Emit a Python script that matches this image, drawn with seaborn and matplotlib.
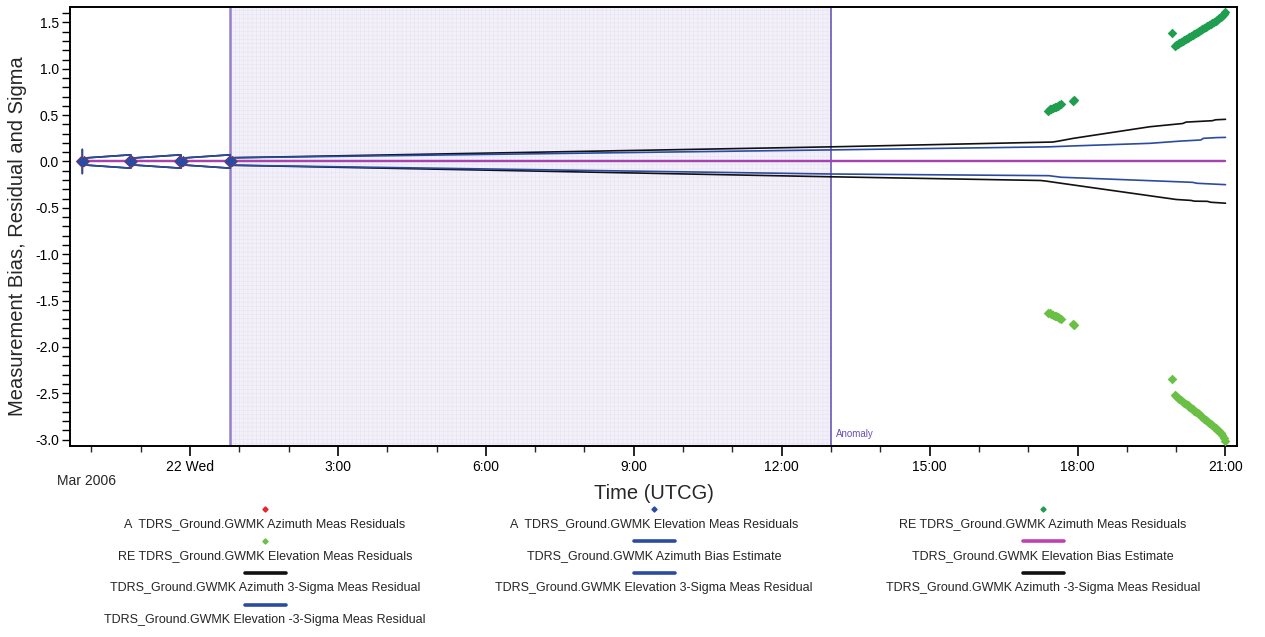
import numpy as np
import pandas as pd
import matplotlib
matplotlib.use("Agg")
import matplotlib.pyplot as plt
import matplotlib.dates as mdates
from matplotlib.lines import Line2D
from matplotlib.ticker import MultipleLocator, FuncFormatter
import seaborn as sns

# ---------------------------------------------------------------- data
# A-station passes (21-22 Mar 2006): azimuth / elevation residuals
a_times = ["2006-03-21 21:47", "2006-03-21 21:49", "2006-03-21 21:51",
           "2006-03-21 22:46", "2006-03-21 22:48", "2006-03-21 22:50",
           "2006-03-21 23:47", "2006-03-21 23:49", "2006-03-21 23:51",
           "2006-03-22 00:47", "2006-03-22 00:49", "2006-03-22 00:51"]
a_az_resid = [0.010, -0.008, 0.004, 0.006, -0.006, 0.003,
              0.008, -0.007, 0.002, 0.007, -0.005, 0.003]
a_el_resid = [0.004, -0.003, 0.006, 0.002, -0.004, 0.005,
              0.003, -0.002, 0.004, 0.002, -0.003, 0.004]

# RE-station passes after the anomaly
re_times = ["2006-03-22 17:24", "2006-03-22 17:26", "2006-03-22 17:28",
            "2006-03-22 17:30", "2006-03-22 17:32", "2006-03-22 17:34",
            "2006-03-22 17:36", "2006-03-22 17:38", "2006-03-22 17:40",
            "2006-03-22 17:54", "2006-03-22 17:56",
            "2006-03-22 19:55",
            "2006-03-22 19:58", "2006-03-22 20:00", "2006-03-22 20:02",
            "2006-03-22 20:04", "2006-03-22 20:06", "2006-03-22 20:08",
            "2006-03-22 20:10", "2006-03-22 20:12", "2006-03-22 20:14",
            "2006-03-22 20:16", "2006-03-22 20:18", "2006-03-22 20:20",
            "2006-03-22 20:22", "2006-03-22 20:24", "2006-03-22 20:26",
            "2006-03-22 20:28", "2006-03-22 20:30", "2006-03-22 20:32",
            "2006-03-22 20:34", "2006-03-22 20:36", "2006-03-22 20:38",
            "2006-03-22 20:40", "2006-03-22 20:42", "2006-03-22 20:44",
            "2006-03-22 20:46", "2006-03-22 20:48", "2006-03-22 20:50",
            "2006-03-22 20:52", "2006-03-22 20:54", "2006-03-22 20:56",
            "2006-03-22 20:58", "2006-03-22 21:00"]
re_az_resid = [0.550, 0.562, 0.570, 0.578, 0.585, 0.590, 0.598, 0.605, 0.615,
               0.655, 0.668,
               1.385,
               1.250, 1.262, 1.270, 1.283, 1.291, 1.305, 1.312, 1.326, 1.335,
               1.347, 1.358, 1.366, 1.378, 1.390, 1.398, 1.410, 1.422, 1.431,
               1.443, 1.455, 1.464, 1.476, 1.488, 1.497, 1.508, 1.520, 1.532,
               1.545, 1.558, 1.572, 1.594, 1.615]
re_el_resid = [-1.630, -1.640, -1.648, -1.655, -1.662, -1.670, -1.680, -1.690, -1.705,
               -1.750, -1.765,
               -2.345,
               -2.520, -2.535, -2.550, -2.560, -2.578, -2.590, -2.605, -2.620, -2.632,
               -2.648, -2.660, -2.675, -2.690, -2.703, -2.718, -2.730, -2.748, -2.760,
               -2.775, -2.790, -2.803, -2.820, -2.832, -2.848, -2.862, -2.878, -2.893,
               -2.910, -2.930, -2.955, -2.985, -3.020]

# Bias estimates
bias_times = ["2006-03-21 21:49", "2006-03-22 00:49", "2006-03-22 17:24",
              "2006-03-22 19:55", "2006-03-22 21:00"]
az_bias = [0.0, 0.0, 0.0, 0.0, 0.0]
el_bias = [0.0, 0.0, 0.0, 0.0, 0.0]

# 3-sigma envelopes: sawtooth during the early passes, then growth
early_sig_times = ["2006-03-21 21:49", "2006-03-21 21:49", "2006-03-21 22:48",
                   "2006-03-21 22:48", "2006-03-21 23:49", "2006-03-21 23:49",
                   "2006-03-22 00:49", "2006-03-22 00:49"]
early_sig = [0.13, 0.036, 0.072, 0.036, 0.072, 0.036, 0.072, 0.040]

az_up_times = ["2006-03-22 13:00", "2006-03-22 17:30", "2006-03-22 17:38",
               "2006-03-22 17:55", "2006-03-22 19:28", "2006-03-22 20:08",
               "2006-03-22 20:12", "2006-03-22 20:44", "2006-03-22 20:48",
               "2006-03-22 21:00"]
az_up = [0.158, 0.210, 0.222, 0.250, 0.375, 0.410, 0.425, 0.440, 0.450, 0.455]

az_lo_times = ["2006-03-22 13:00", "2006-03-22 17:15", "2006-03-22 17:22",
               "2006-03-22 17:40", "2006-03-22 20:00", "2006-03-22 20:18",
               "2006-03-22 20:22", "2006-03-22 20:38", "2006-03-22 20:42",
               "2006-03-22 21:00"]
az_lo = [-0.165, -0.205, -0.212, -0.235, -0.410, -0.420, -0.428, -0.430, -0.440, -0.450]

el_up_times = ["2006-03-22 13:00", "2006-03-22 17:25", "2006-03-22 17:55",
               "2006-03-22 19:28", "2006-03-22 20:05", "2006-03-22 20:30",
               "2006-03-22 20:33", "2006-03-22 20:50", "2006-03-22 21:00"]
el_up = [0.125, 0.158, 0.168, 0.196, 0.220, 0.232, 0.250, 0.258, 0.260]

el_lo_times = ["2006-03-22 13:00", "2006-03-22 17:25", "2006-03-22 17:40",
               "2006-03-22 20:00", "2006-03-22 20:20", "2006-03-22 20:25",
               "2006-03-22 21:00"]
el_lo = [-0.135, -0.153, -0.170, -0.218, -0.225, -0.235, -0.250]

anomaly_span = ["2006-03-22 00:49", "2006-03-22 13:00"]
x_range = ["2006-03-21 21:34", "2006-03-22 21:14"]

legend_labels = [
    "A  TDRS_Ground.GWMK Azimuth Meas Residuals",
    "A  TDRS_Ground.GWMK Elevation Meas Residuals",
    "RE TDRS_Ground.GWMK Azimuth Meas Residuals",
    "RE TDRS_Ground.GWMK Elevation Meas Residuals",
    "TDRS_Ground.GWMK Azimuth Bias Estimate",
    "TDRS_Ground.GWMK Elevation Bias Estimate",
    "TDRS_Ground.GWMK Azimuth 3-Sigma Meas Residual",
    "TDRS_Ground.GWMK Elevation 3-Sigma Meas Residual",
    "TDRS_Ground.GWMK Azimuth -3-Sigma Meas Residual",
    "TDRS_Ground.GWMK Elevation -3-Sigma Meas Residual",
]

# ---------------------------------------------------------------- style
sns.set_theme(style="ticks")
plt.rcParams['font.family'] = ['Liberation Sans', 'DejaVu Sans']
plt.rcParams['hatch.linewidth'] = 0.35

C_RED = "#e8262a"
C_BLUE = "#2b4ba3"
C_BLACK = "#111111"
C_MAG = "#c23fb3"
C_DGREEN = "#1f9e50"
C_LGREEN = "#6abf45"
C_SPAN = "#f2f0f8"
C_SPAN_GRID = "#e6e2f2"


def ts(lst):
    return pd.to_datetime(lst)


def sigma_frame(late_times, late_vals, sign):
    t = list(ts(early_sig_times)) + list(ts(late_times))
    v = [sign * s for s in early_sig] + list(late_vals)
    return pd.DataFrame({"t": t, "v": v})


fig = plt.figure(figsize=(12.65, 6.37), dpi=100)
ax = fig.add_axes([70 / 1265, 1 - 446 / 637, (1237 - 70) / 1265, (446 - 7) / 637])

# anomaly window
t0, t1 = ts(anomaly_span)
ax.axvspan(t0, t1, facecolor=C_SPAN, edgecolor=C_SPAN_GRID, hatch="++++",
           linewidth=0, zorder=0)
ax.axvline(t0, color="#9580cc", lw=1.8, zorder=1)
ax.axvline(t1, color="#6b57b5", lw=1.2, zorder=1)
ax.text(t1 + pd.Timedelta(minutes=6), -2.94, "Anomaly", color="#6a4fb0",
        fontsize=7, va="center", ha="left")

# sigma envelopes
line_kw = dict(x="t", y="v", estimator=None, sort=False, ax=ax, legend=False)
sns.lineplot(data=sigma_frame(az_up_times, az_up, 1), color=C_BLACK, lw=1.2, **line_kw)
sns.lineplot(data=sigma_frame(az_lo_times, az_lo, -1), color=C_BLACK, lw=1.2, **line_kw)
sns.lineplot(data=sigma_frame(el_up_times, el_up, 1), color=C_BLUE, lw=1.2, **line_kw)
sns.lineplot(data=sigma_frame(el_lo_times, el_lo, -1), color=C_BLUE, lw=1.2, **line_kw)

# bias estimates
sns.lineplot(data=pd.DataFrame({"t": ts(bias_times), "v": az_bias}),
             color=C_BLUE, lw=1.6, **line_kw)
sns.lineplot(data=pd.DataFrame({"t": ts(bias_times), "v": el_bias}),
             color=C_MAG, lw=1.6, alpha=0.85, **line_kw)

# residuals
sc_kw = dict(x="t", y="v", marker="D", linewidth=0, ax=ax, legend=False, zorder=4)
sns.scatterplot(data=pd.DataFrame({"t": ts(a_times), "v": a_az_resid}),
                color=C_RED, s=34, **sc_kw)
sns.scatterplot(data=pd.DataFrame({"t": ts(a_times), "v": a_el_resid}),
                color=C_BLUE, s=28, **sc_kw)
sns.scatterplot(data=pd.DataFrame({"t": ts(re_times), "v": re_az_resid}),
                color=C_DGREEN, s=24, **sc_kw)
sns.scatterplot(data=pd.DataFrame({"t": ts(re_times), "v": re_el_resid}),
                color=C_LGREEN, s=24, **sc_kw)

# axes
xr = ts(x_range)
ax.set_xlim(xr[0], xr[1])
ax.set_ylim(-3.07, 1.667)

ax.xaxis.set_major_locator(mdates.HourLocator(byhour=range(0, 24, 3)))
ax.xaxis.set_minor_locator(mdates.HourLocator())


def time_fmt(x, pos):
    d = mdates.num2date(x)
    if d.hour == 0:
        return f"{d.day} {d.strftime('%a')}"
    return f"{d.hour}:{d.minute:02d}"


ax.xaxis.set_major_formatter(FuncFormatter(time_fmt))
ax.yaxis.set_major_locator(MultipleLocator(0.5))
ax.yaxis.set_minor_locator(MultipleLocator(0.1))
ax.yaxis.set_major_formatter(FuncFormatter(lambda v, p: f"{v:.1f}"))

ax.tick_params(axis="x", which="major", length=7, width=1.2, pad=3,
               labelsize=10, colors="black")
ax.tick_params(axis="x", which="minor", length=4.5, width=1.0)
ax.tick_params(axis="y", which="both", length=6, width=1.0, pad=2,
               labelsize=10, colors="black")
for side in ["left", "right", "top", "bottom"]:
    ax.spines[side].set_visible(True)
    ax.spines[side].set_color("black")
    ax.spines[side].set_linewidth(1.4)

ax.set_xlabel("Time (UTCG)", fontsize=14.5)
ax.set_ylabel("Measurement Bias, Residual and Sigma", fontsize=14.5)
ax.xaxis.set_label_coords(0.5, -(484 - 446) / 439)
ax.yaxis.set_label_coords((27 - 70) / 1167, (446 - 236) / 439)

fig.text(57 / 1265, 1 - 481 / 637, "Mar 2006", fontsize=10, ha="left", va="center")

# legend below the plot: symbol above each label, three columns
col_x = [265, 654, 1043]
row_sym_y = [509, 541, 573, 605]
handles = [
    ("dot", C_RED), ("dot", C_BLUE), ("dot", C_DGREEN),
    ("dot", C_LGREEN), ("line", C_BLUE), ("line", C_MAG),
    ("line", C_BLACK), ("line", C_BLUE), ("line", C_BLACK),
    ("line", C_BLUE),
]
W, H = 1265, 637
for i, (label, (kind, col)) in enumerate(zip(legend_labels, handles)):
    r, c = divmod(i, 3)
    cx = col_x[c]
    sy = row_sym_y[r]
    if kind == "dot":
        fig.add_artist(Line2D([cx / W], [1 - sy / H], marker="D", markersize=2.6,
                              color=col, linestyle="none",
                              transform=fig.transFigure))
    else:
        fig.add_artist(Line2D([(cx - 20) / W, (cx + 21) / W], [1 - sy / H, 1 - sy / H],
                              color=col, lw=2.6, transform=fig.transFigure))
    fig.text(cx / W, 1 - (sy + 15) / H, label, fontsize=9, ha="center", va="center")

fig.savefig("out.png", dpi=100)
